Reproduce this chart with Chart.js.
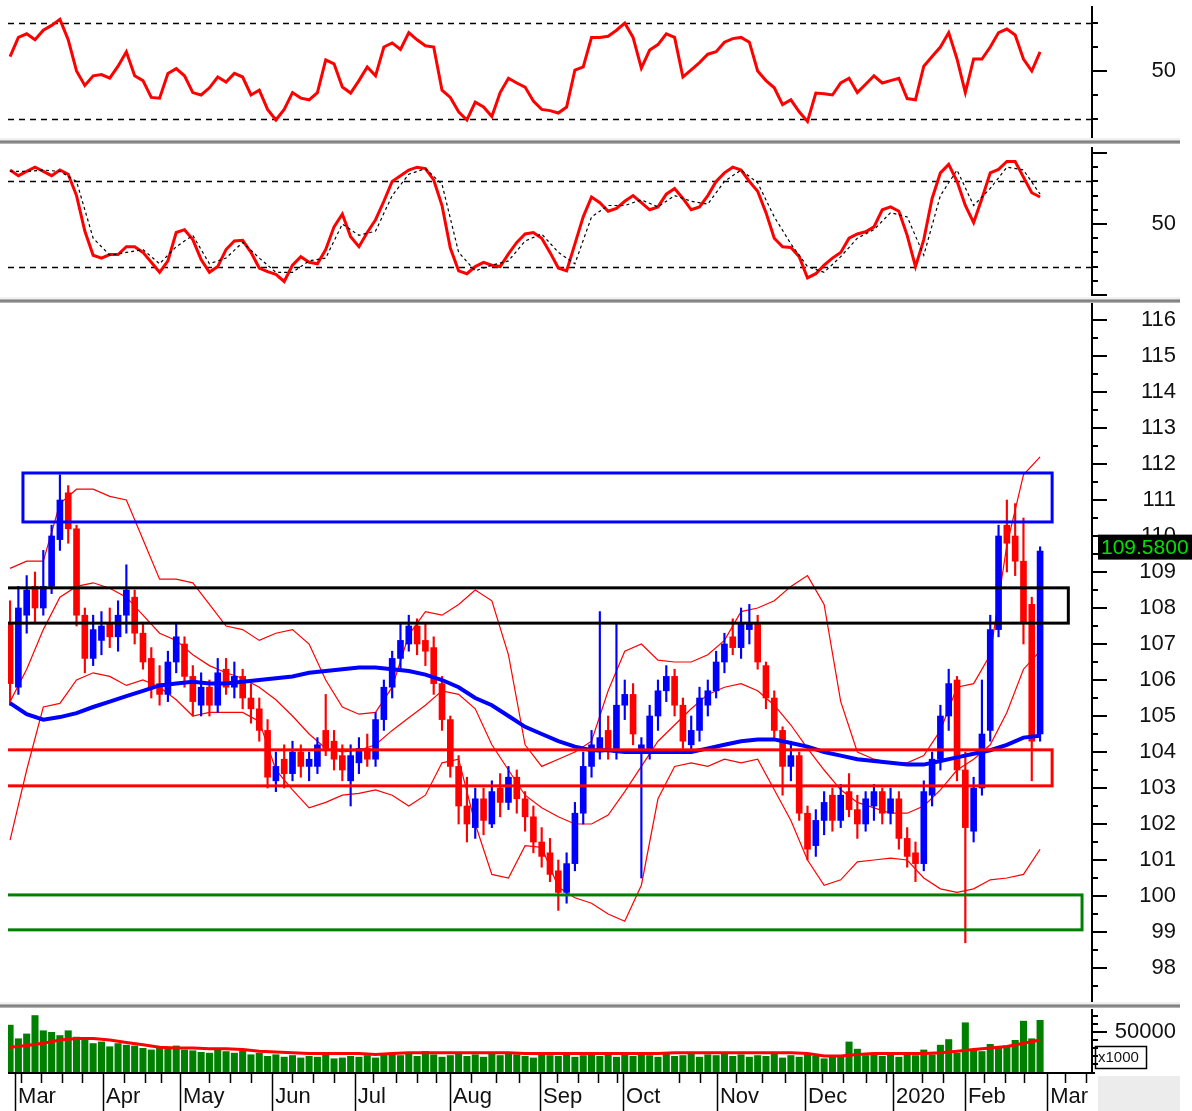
<!DOCTYPE html>
<html>
<head>
<meta charset="utf-8">
<title>Price chart</title>
<script src="https://cdn.jsdelivr.net/npm/chart.js@4.4.1/dist/chart.umd.min.js"></script>
<style>
  body { margin: 0; background: #fff; }
  #wrap { position: relative; width: 1192px; height: 1111px; overflow: hidden; background: #fff; }
  #wrap canvas { position: absolute; left: 0; }
  .sep { position: absolute; left: 0; width: 1180px; height: 6px;
         background: linear-gradient(#f0f0f0 0, #f0f0f0 30%, #a0a0a0 45%, #707070 65%, #c8c8c8 100%); }
  #corner { position: absolute; left: 1098px; top: 1076px; width: 82px; height: 35px; background: #ececec; }
</style>
</head>
<body>
<div id="wrap">
  <canvas id="rsiChart" width="1192" height="138" style="top:0"></canvas>
  <canvas id="stochChart" width="1192" height="152" style="top:145px"></canvas>
  <canvas id="priceChart" width="1192" height="699" style="top:303px"></canvas>
  <canvas id="volChart" width="1192" height="103" style="top:1008px"></canvas>
  <div class="sep" style="top:138px"></div>
  <div class="sep" style="top:297px"></div>
  <div class="sep" style="top:1002px"></div>
  <div id="corner"></div>
</div>
<script>
// x axis: trading-day index, Mar 2019 .. Feb 2020
var monthDays = [1.2, 22.4, 40.9, 63.1, 83.0, 105.9, 127.6, 147.6, 170.2, 191.4, 212.6, 229.9, 249.7];
var monthLabels = ['Mar', 'Apr', 'May', 'Jun', 'Jul', 'Aug', 'Sep', 'Oct', 'Nov', 'Dec', '2020', 'Feb', 'Mar'];
var weekDays = [2.6, 7.4, 12.5, 17.3, 27.5, 32.5, 36.4, 48, 53, 58, 68, 73, 78, 87.5, 92.9, 98, 102.5, 111, 117,
  122.6, 131.7, 136.7, 141.5, 146.1, 161.1, 166.1, 174.7, 181.1, 186.5, 195.5, 200.6, 206, 211, 219.6, 224.6,
  234.5, 239.6, 244.1, 254, 259];

// candles, one every 2 trading days
var openPx = [107.6,105.8,107.8,108.6,108.0,108.6,109.9,111.2,110.2,107.8,
  106.6,107.1,107.6,107.2,107.8,108.3,107.3,106.6,105.9,105.6,
  106.5,107.0,106.1,105.3,105.8,105.3,106.3,105.8,106.1,105.5,
  105.2,104.6,103.2,103.8,103.4,104.0,103.6,103.6,104.6,104.3,
  103.9,103.2,103.7,104.1,103.8,104.9,105.8,106.6,107.0,107.5,
  107.1,106.9,105.9,104.9,103.6,102.5,101.9,102.7,102.0,103.0,
  102.6,103.3,102.7,102.2,101.5,101.2,100.7,100.1,100.9,102.3,
  103.6,104.0,104.6,104.0,105.3,105.6,104.0,104.0,105.0,105.7,
  106.1,105.3,104.2,104.6,105.3,105.7,106.5,107.2,106.9,107.4,
  107.6,106.4,105.5,104.6,103.6,103.9,102.3,101.4,102.1,102.8,
  102.1,102.9,102.4,102.0,102.5,102.9,102.3,102.7,101.6,101.2,
  100.9,102.8,103.8,105.0,106.0,103.5,101.8,103.0,104.6,107.4,
  110.3,110.0,109.3,108.1,104.5];
var highPx = [108.2,108.6,108.9,109.0,109.6,110.3,111.7,111.4,110.3,108.0,
  107.8,107.9,108.0,108.2,109.2,108.5,107.6,106.9,106.4,106.8,
  107.6,107.2,106.4,106.2,106.0,106.6,106.6,106.5,106.3,105.9,
  105.5,104.9,104.0,104.2,104.3,104.2,104.0,104.4,105.6,104.6,
  104.2,104.2,104.4,104.5,105.1,106.0,106.8,107.6,107.8,107.7,
  107.6,107.2,106.1,105.0,103.9,103.3,103.0,103.0,103.2,103.4,
  103.6,103.5,102.9,102.5,101.9,101.6,101.0,101.2,102.6,104.0,
  104.6,107.9,105.0,107.6,106.0,105.9,104.4,105.3,106.0,106.4,
  106.3,105.5,105.0,105.8,106.0,106.8,107.3,107.7,108.0,108.1,
  107.8,106.5,105.7,104.7,104.3,104.0,102.5,102.4,102.9,103.0,
  103.1,103.4,102.8,102.9,103.1,103.0,103.0,102.9,101.9,101.5,
  103.2,104.0,105.3,106.3,106.1,104.0,103.3,106.0,107.8,110.3,
  111.0,110.9,110.5,108.3,109.7];
var lowPx = [105.3,105.6,107.3,107.6,107.8,108.4,109.6,109.8,107.5,106.2,
  106.4,106.7,106.9,106.8,107.3,107.0,106.3,105.5,105.3,105.4,
  106.2,105.8,105.0,105.0,105.0,105.1,105.6,105.5,105.2,104.8,
  104.3,103.0,102.9,103.0,103.2,103.3,103.2,103.4,103.9,103.5,
  103.2,102.5,103.4,103.6,103.6,104.6,105.5,106.3,106.8,106.7,
  106.4,105.6,104.6,103.3,102.0,101.5,101.6,101.7,101.9,102.2,
  102.4,102.3,101.8,101.2,100.8,100.4,99.6,99.8,100.7,102.0,
  103.3,103.8,103.8,103.8,104.9,104.2,100.5,103.8,104.6,105.4,
  105.0,104.1,104.0,104.3,105.0,105.5,106.2,106.7,106.6,107.0,
  106.3,105.2,104.4,102.8,103.2,102.1,101.0,101.1,101.7,101.8,
  101.9,102.2,101.6,101.8,102.1,102.0,102.0,101.3,100.8,100.4,
  100.7,102.5,103.5,104.6,103.2,98.7,101.5,102.8,104.3,107.2,
  109.0,108.9,107.0,103.2,104.3];
var closePx = [105.9,108.0,108.5,108.0,108.6,110.0,111.0,110.2,107.8,106.6,
  107.4,107.5,107.2,107.8,108.5,107.3,106.5,105.8,105.6,106.5,
  107.2,106.1,105.4,105.8,105.3,106.2,105.8,106.1,105.5,105.2,
  104.6,103.3,103.6,103.4,104.0,103.6,103.8,104.2,104.1,103.8,
  103.5,103.9,104.1,103.8,104.9,105.8,106.6,107.1,107.5,107.0,
  106.8,105.9,104.9,103.6,102.5,102.0,102.7,102.1,102.9,102.6,
  103.3,102.7,102.2,101.5,101.1,100.6,100.1,100.9,102.3,103.6,
  104.2,104.4,104.1,105.3,105.6,104.5,104.2,105.0,105.7,106.1,
  105.3,104.3,104.6,105.5,105.7,106.5,107.0,106.9,107.6,107.6,
  106.5,105.5,104.6,103.6,103.9,102.3,101.3,102.1,102.6,102.1,
  102.8,102.4,102.0,102.7,102.9,102.3,102.7,101.6,101.1,100.9,
  102.9,103.8,105.0,105.9,103.5,101.9,103.0,104.5,107.4,110.0,
  109.8,109.3,107.6,104.3,109.58];
var volume = [59,42,48,71,52,50,46,52,44,40,
  36,38,32,36,34,33,30,28,32,30,
  33,28,27,25,24,29,26,24,27,22,
  24,20,22,19,21,18,20,19,22,17,
  18,20,19,21,18,22,24,21,23,20,
  26,22,19,21,24,20,22,19,23,21,
  25,22,20,18,22,21,20,23,19,21,
  24,20,22,19,22,20,25,21,19,24,
  20,21,23,19,22,21,24,20,22,19,
  21,20,23,18,21,19,22,20,17,21,
  19,38,29,21,24,20,22,19,23,21,
  28,22,34,41,24,62,28,26,35,30,
  33,40,64,42,65];
var rsi = [56,64,65.5,63,67,69,71.5,63,50,44,
  48,48.5,47,52,58,48,46,39,38.7,49,
  51,48,41,40,43,47.5,45.4,49,47.5,40,
  42,34,29.6,34,41,38.7,38,41,54.6,53,
  43.3,40.8,46,51.7,48,60,61.7,59,66,63,
  60.5,60,42,39,33,29.6,37,35,31,41,
  47,45,43.3,37.5,34,33.5,32.5,35,50.4,51.7,
  64,64,64.5,67,70,64,51.2,58.7,61,65.5,
  64,47.5,50.5,53.5,57,58,62,63.5,64,62,
  50,46,43,36,38,33,29,40.8,40.5,40,
  45,47,41,44.5,48,45,46,47,38.5,38,
  52,56,60,66,55,41,55,55,60,66,
  67.5,65,55,50,58];
var stochK = [88,84,87,90,87,84,88,85,70,45,
  28,26,28.5,28.5,34,34,30,23,16,24,
  44,46,39,25,16,20,32,38,38.5,30,
  19,16.5,14.5,9.5,21,27,23,22,32,48,
  57,41,34,44,53,66,80,84,88,90,
  89,81,63,33,17,15,20,23,21,20,
  29,37,43,44,40,30,19,17,36,55,
  69,65,59,61,66,70,65,60,62,71,
  75,68,60,62,70,80,86,90,88,80,
  73,58,40,34,33.5,27,12,15,21,26,
  30,40,43,44.5,48,60,62,59,42,20,
  39,68,86,92,80,63,51,68,86,88.4,
  94,94,83,72,69];

// smoother lines, one point every 4 trading days
var stochD = [87,87,88,87,80,40,28,30,32,22,
  34,42,22,26,37,26,16,16,24,26,
  50,42,45,70,85,89,78,30,17,21,
  24,38,43,30,22,55,63,63,67,62,
  70,66,64,80,88,79,55,36,20,16,
  27,40,46,58,55,28,70,88,63,75,
  90,88,71];
var bbUpper = [109.1,109.3,109.3,110.9,111.3,111.3,111.1,111.0,109.9,108.8,
  108.8,108.7,108.1,107.5,107.4,107.1,107.3,107.4,107.0,106.0,
  105.25,105.05,105.1,105.8,107.25,107.9,107.8,108.1,108.5,108.2,
  106.7,104.2,103.6,103.8,104.0,104.3,105.7,106.8,107.0,106.55,
  106.5,106.5,106.7,107.1,107.9,108.0,108.2,108.6,108.9,108.1,
  105.4,104.0,103.8,103.7,103.7,103.9,104.6,105.8,105.9,106.7,
  109.75,111.7,112.2];
var bbMiddle = [105.4,106.3,107.4,108.3,108.6,108.7,108.55,108.3,107.8,107.3,
  107.1,106.7,106.4,106.2,106.05,105.8,105.45,105.0,104.5,104.1,
  104.0,104.05,104.2,104.6,104.95,105.3,105.7,105.6,105.2,104.2,
  103.5,102.8,102.45,102.2,102.0,102.0,102.25,102.9,103.6,104.3,
  104.75,105.2,105.6,105.8,105.9,105.7,105.3,104.75,104.1,103.5,
  102.95,102.6,102.45,102.3,102.3,102.5,102.95,103.5,103.8,104.2,
  105.1,106.3,106.8];
var bbLower = [101.55,103.5,105.25,105.35,106.0,106.2,106.1,105.85,106.0,105.8,
  105.45,105.0,105.1,105.1,105.1,104.85,103.5,102.95,102.45,102.6,
  102.8,102.85,102.95,102.8,102.5,102.8,103.7,103.8,102.0,100.6,
  100.5,101.4,101.35,100.25,99.95,99.8,99.5,99.3,100.3,102.7,
  103.6,103.7,103.6,103.8,103.7,103.8,102.95,102.1,101.0,100.3,
  100.45,100.95,101.0,101.05,101.0,100.5,100.2,100.1,100.2,100.45,
  100.5,100.6,101.3];
var movingAvg = [105.36,105.05,104.9,104.97,105.08,105.25,105.4,105.55,105.7,105.85,
  105.9,105.95,105.9,105.9,105.95,106.0,106.05,106.1,106.2,106.25,
  106.3,106.35,106.35,106.3,106.25,106.15,106.0,105.8,105.5,105.3,
  105.0,104.7,104.5,104.3,104.15,104.05,104.05,104.0,104.0,104.0,
  104.0,104.0,104.1,104.2,104.3,104.35,104.35,104.25,104.15,104.0,
  103.9,103.8,103.75,103.7,103.65,103.65,103.75,103.85,103.95,104.05,
  104.2,104.4,104.45];
var volumeAvg = [31,33,36,40,42,42,40,37,34,31,
  30,30,29,29,28,26,25,24,23,23,
  23,23,22,23,24,24,24,24,24,24,
  24,23,23,23,23,23,23,23,23,23,
  24,24,24,24,24,24,24,24,23,20,
  20,22,23,23,23,23,24,26,28,30,
  32,36,40];

// horizontal zones on the price panel
var zoneStart = [3.1, -5, -5, -5];
var zoneEnd = [250.9, 254.8, 250.9, 258.1];
var zoneTop = [111.75, 108.56, 104.06, 100.03];
var zoneBottom = [110.39, 107.58, 103.06, 99.06];
var zoneColors = ['#0000ff', '#000000', '#ff0000', '#008000'];

// axis ticks
var rsiLabels = [50], rsiMinor = [30, 40, 60, 70], rsiGuides = [70, 30];
var stochLabels = [50], stochMajor = [0, 50, 100], stochMinor = [10, 20, 30, 40, 60, 70, 80, 90], stochGuides = [80, 20];
var priceLabels = [98,99,100,101,102,103,104,105,106,107,108,109,110,111,112,113,114,115,116];
var priceMinor = [97.5,98.5,99.5,100.5,101.5,102.5,103.5,104.5,105.5,106.5,107.5,108.5,109.5,110.5,111.5,112.5,113.5,114.5,115.5,116.5];
var volLabels = [50000], volMinor = [10000, 20000, 30000, 40000, 60000, 70000];

var candleStep = 2, lineStep = 4;
var FONT = 'Arial, "Liberation Sans", sans-serif';
Chart.defaults.font.family = FONT;

function pts(arr, step, mult) {
    return arr.map(function (v, k) { return { x: k * step, y: v * (mult || 1) }; });
}

function tickMarks(major, minor) {
    return {
        id: 'tickMarks',
        afterDraw: function (chart) {
            var ctx = chart.ctx, area = chart.chartArea, y = chart.scales.y;
            ctx.save();
            ctx.strokeStyle = '#000';
            ctx.lineWidth = 2;
            function mark(v, len) {
                var py = Math.round(y.getPixelForValue(v));
                ctx.beginPath();
                ctx.moveTo(area.right, py);
                ctx.lineTo(area.right + len, py);
                ctx.stroke();
            }
            major.forEach(function (v) { mark(v, 15); });
            minor.forEach(function (v) { mark(v, 6); });
            ctx.restore();
        }
    };
}

function guideLines(levels) {
    return {
        id: 'guides',
        beforeDatasetsDraw: function (chart) {
            var ctx = chart.ctx, area = chart.chartArea, y = chart.scales.y;
            ctx.save();
            ctx.strokeStyle = '#000';
            ctx.lineWidth = 1.5;
            ctx.setLineDash([6, 5]);
            levels.forEach(function (v) {
                var py = Math.round(y.getPixelForValue(v)) + 0.5;
                ctx.beginPath();
                ctx.moveTo(area.left, py);
                ctx.lineTo(area.right, py);
                ctx.stroke();
            });
            ctx.restore();
        }
    };
}

function yAxis(min, max, labels) {
    return {
        position: 'right',
        min: min,
        max: max,
        afterBuildTicks: function (s) { s.ticks = labels.map(function (v) { return { value: v }; }); },
        afterFit: function (s) { s.width = 84; s.paddingTop = 0; s.paddingBottom = 0; },
        grid: { display: false },
        border: { display: true, color: '#000', width: 2 },
        ticks: {
            autoSkip: false,
            crossAlign: 'far',
            color: '#111',
            font: { size: 22 },
            callback: function (v) { return String(v); }
        }
    };
}

var xAxis = { type: 'linear', min: -0.5, max: 260.5, offset: false, display: false };

function baseOptions(padTop, padBottom, y) {
    return {
        responsive: false,
        animation: false,
        events: [],
        layout: { padding: { left: 8, right: 16, top: padTop, bottom: padBottom } },
        plugins: { legend: { display: false }, tooltip: { enabled: false } },
        scales: { x: xAxis, y: y }
    };
}

// RSI panel
new Chart(document.getElementById('rsiChart'), {
    type: 'line',
    data: {
        datasets: [{
            data: pts(rsi, candleStep),
            borderColor: '#ff0000',
            borderWidth: 3,
            pointRadius: 0
        }]
    },
    options: baseOptions(7, 1, yAxis(22.5, 76.67, rsiLabels)),
    plugins: [guideLines(rsiGuides), tickMarks(rsiLabels, rsiMinor)]
});

// Stochastic panel
new Chart(document.getElementById('stochChart'), {
    type: 'line',
    data: {
        datasets: [{
            data: pts(stochD, lineStep),
            borderColor: '#000',
            borderWidth: 1.2,
            borderDash: [3, 3],
            pointRadius: 0,
            order: 0
        }, {
            data: pts(stochK, candleStep),
            borderColor: '#ff0000',
            borderWidth: 3,
            pointRadius: 0,
            order: 1
        }]
    },
    options: baseOptions(3, 2, yAxis(0, 103.5, stochLabels)),
    plugins: [guideLines(stochGuides), tickMarks(stochMajor, stochMinor)]
});

// Price panel
var candleColors = closePx.map(function (c, k) { return c >= openPx[k] ? '#0000ff' : '#ff0000'; });
var wickData = lowPx.map(function (l, k) { return { x: k * candleStep, y: [l, highPx[k]] }; });
var bodyData = openPx.map(function (o, k) {
    return { x: k * candleStep, y: [Math.min(o, closePx[k]), Math.max(o, closePx[k])] };
});

var zonesPlugin = {
    id: 'zones',
    afterDatasetsDraw: function (chart) {
        var ctx = chart.ctx, area = chart.chartArea, x = chart.scales.x, y = chart.scales.y;
        ctx.save();
        ctx.beginPath();
        ctx.rect(area.left, area.top, area.right - area.left, area.bottom - area.top);
        ctx.clip();
        ctx.lineWidth = 3;
        zoneStart.forEach(function (s, i) {
            var x0 = x.getPixelForValue(s), x1 = x.getPixelForValue(zoneEnd[i]);
            var y0 = y.getPixelForValue(zoneTop[i]), y1 = y.getPixelForValue(zoneBottom[i]);
            ctx.strokeStyle = zoneColors[i];
            ctx.strokeRect(x0, y0, x1 - x0, y1 - y0);
        });
        ctx.restore();
    }
};

var lastTag = {
    id: 'lastTag',
    afterDraw: function (chart) {
        var ctx = chart.ctx, area = chart.chartArea, y = chart.scales.y;
        var last = closePx[closePx.length - 1];
        var py = y.getPixelForValue(last) - 4;
        ctx.save();
        ctx.fillStyle = '#000';
        ctx.fillRect(area.right + 6, py - 12.5, 110, 25);
        ctx.fillStyle = '#00e000';
        ctx.font = '21px ' + FONT;
        ctx.textBaseline = 'middle';
        ctx.fillText(last.toFixed(4), area.right + 9, py + 1);
        ctx.restore();
    }
};

new Chart(document.getElementById('priceChart'), {
    type: 'bar',
    data: {
        datasets: [{
            type: 'line',
            data: pts(movingAvg, lineStep),
            borderColor: '#0000ff',
            borderWidth: 4,
            pointRadius: 0,
            order: 0
        }, {
            data: bodyData,
            backgroundColor: candleColors,
            barThickness: 6,
            minBarLength: 2,
            grouped: false,
            order: 1
        }, {
            data: wickData,
            backgroundColor: candleColors,
            barThickness: 1.5,
            grouped: false,
            order: 2
        }, {
            type: 'line',
            data: pts(bbUpper, lineStep),
            borderColor: '#ff0000',
            borderWidth: 1.2,
            pointRadius: 0,
            order: 3
        }, {
            type: 'line',
            data: pts(bbMiddle, lineStep),
            borderColor: '#ff0000',
            borderWidth: 1.2,
            pointRadius: 0,
            order: 3
        }, {
            type: 'line',
            data: pts(bbLower, lineStep),
            borderColor: '#ff0000',
            borderWidth: 1.2,
            pointRadius: 0,
            order: 3
        }]
    },
    options: baseOptions(0, 0, yAxis(97.056, 116.472, priceLabels)),
    plugins: [zonesPlugin, tickMarks(priceLabels, priceMinor), lastTag]
});

// Volume panel with the date axis underneath
var dateAxis = {
    id: 'dateAxis',
    afterDraw: function (chart) {
        var ctx = chart.ctx, area = chart.chartArea, x = chart.scales.x;
        var base = area.bottom + 1;
        ctx.save();
        ctx.strokeStyle = '#000';
        ctx.lineWidth = 2;
        ctx.beginPath();
        ctx.moveTo(area.left, base);
        ctx.lineTo(area.right + 3, base);
        ctx.stroke();
        ctx.lineWidth = 1.5;
        monthDays.forEach(function (d) {
            var px = Math.round(x.getPixelForValue(d)) + 0.5;
            ctx.beginPath();
            ctx.moveTo(px, base);
            ctx.lineTo(px, chart.height);
            ctx.stroke();
        });
        weekDays.forEach(function (d) {
            var px = Math.round(x.getPixelForValue(d)) + 0.5;
            ctx.beginPath();
            ctx.moveTo(px, base);
            ctx.lineTo(px, base + 10);
            ctx.stroke();
        });
        ctx.fillStyle = '#111';
        ctx.font = '22px ' + FONT;
        ctx.textBaseline = 'middle';
        monthLabels.forEach(function (t, i) {
            ctx.fillText(t, x.getPixelForValue(monthDays[i]) + 3, base + 24);
        });
        // unit box
        ctx.lineWidth = 1.5;
        ctx.strokeRect(area.right + 3.5, area.bottom - 25.5, 51, 22);
        ctx.font = '15px ' + FONT;
        ctx.fillText('x1000', area.right + 6, area.bottom - 14);
        ctx.restore();
    }
};

new Chart(document.getElementById('volChart'), {
    type: 'bar',
    data: {
        datasets: [{
            type: 'line',
            data: pts(volumeAvg, lineStep, 1000),
            borderColor: '#ff0000',
            borderWidth: 3,
            pointRadius: 0,
            order: 0
        }, {
            data: pts(volume, candleStep, 1000),
            backgroundColor: '#008000',
            barPercentage: 1,
            categoryPercentage: 0.85,
            order: 1
        }]
    },
    options: baseOptions(2, 39, yAxis(0, 77500, volLabels)),
    plugins: [tickMarks(volLabels, volMinor), dateAxis]
});
</script>
</body>
</html>
